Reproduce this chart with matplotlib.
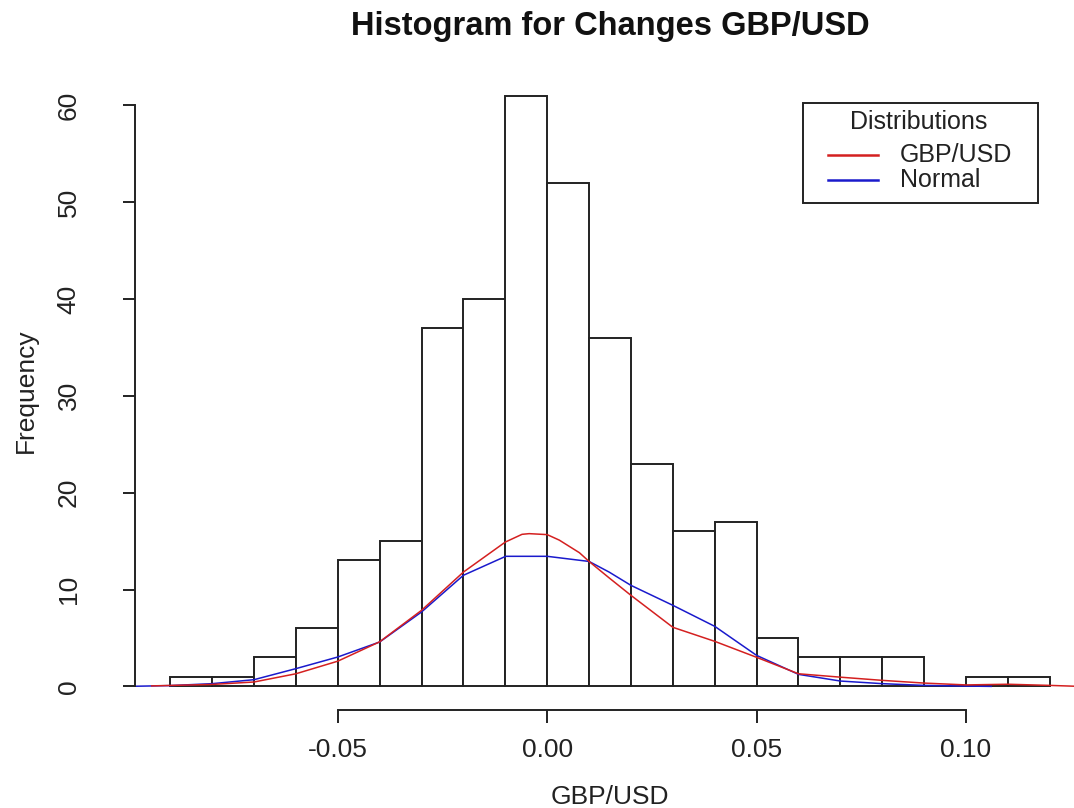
import numpy as np
import matplotlib.pyplot as plt
from matplotlib.patches import Rectangle
from matplotlib.lines import Line2D

plt.rcParams['font.family'] = ['Liberation Sans', 'DejaVu Sans']

# Histogram counts, bins of width 0.01 from -0.09 to 0.12
bin_left = [-0.09, -0.08, -0.07, -0.06, -0.05, -0.04, -0.03, -0.02, -0.01, 0.00,
            0.01, 0.02, 0.03, 0.04, 0.05, 0.06, 0.07, 0.08, 0.09, 0.10, 0.11]
counts = [1, 1, 3, 6, 13, 15, 37, 40, 61, 52, 36, 23, 16, 17, 5, 3, 3, 3, 0, 1, 1]
bin_width = 0.01

# Density curves (scaled)
gbp_x = [-0.0944, -0.08, -0.07, -0.06, -0.05, -0.04, -0.03, -0.02, -0.01, -0.006,
         -0.0043, 0.0, 0.0029, 0.0077, 0.01, 0.0148, 0.02, 0.03, 0.04, 0.05,
         0.06, 0.07, 0.08, 0.09, 0.10, 0.11, 0.12, 0.127]
gbp_y = [0.05, 0.2, 0.45, 1.3, 2.6, 4.6, 7.85, 11.8, 14.9, 15.7,
         15.77, 15.67, 15.1, 13.8, 12.9, 11.2, 9.4, 6.1, 4.65, 3.0,
         1.3, 0.95, 0.62, 0.34, 0.15, 0.22, 0.1, 0.0]

norm_x = [-0.1, -0.09, -0.08, -0.07, -0.06, -0.05, -0.04, -0.03, -0.02, -0.0099,
          0.0, 0.01, 0.0148, 0.02, 0.03, 0.04, 0.05, 0.06, 0.07, 0.08,
          0.09, 0.10, 0.106]
norm_y = [0.0, 0.08, 0.28, 0.69, 1.83, 3.03, 4.58, 7.68, 11.47, 13.43,
          13.43, 12.9, 11.8, 10.43, 8.37, 6.2, 3.2, 1.24, 0.55, 0.28,
          0.1, 0.03, 0.0]

legend_title = 'Distributions'
legend_labels = ['GBP/USD', 'Normal']
legend_colors = ['#d42020', '#1a1acc']

W, H = 1074, 808
fig = plt.figure(figsize=(W / 100, H / 100), dpi=100)
ax = fig.add_axes([135 / W, 1 - 710 / H, 950 / W, 638 / H])

ax.bar(bin_left, counts, width=bin_width, align='edge', facecolor='white',
       edgecolor='#222222', linewidth=1.4)
ax.plot(norm_x, norm_y, color=legend_colors[1], linewidth=1.1)
ax.plot(gbp_x, gbp_y, color=legend_colors[0], linewidth=1.1)

ax.set_xlim(-0.0984, 0.1284)
ax.set_ylim(-2.44, 63.44)

for s in ['top', 'right']:
    ax.spines[s].set_visible(False)
ax.spines['left'].set_bounds(0, 60)
ax.spines['bottom'].set_bounds(-0.05, 0.10)
for s in ['left', 'bottom']:
    ax.spines[s].set_linewidth(1.4)
    ax.spines[s].set_color('#222222')

ax.set_xticks([-0.05, 0.0, 0.05, 0.10])
ax.set_xticklabels(['-0.05', '0.00', '0.05', '0.10'])
ax.set_yticks([0, 10, 20, 30, 40, 50, 60])
ax.tick_params(axis='both', length=9, width=1.4, color='#222222',
               labelsize=19, labelcolor='#222222')
ax.tick_params(axis='x', pad=11)
ax.tick_params(axis='y', pad=30)
for lab in ax.get_yticklabels():
    lab.set_rotation(90)
    lab.set_va('center')

ax.set_xlabel('GBP/USD', fontsize=19, color='#222222', labelpad=17)
ax.set_ylabel('Frequency', fontsize=19, color='#222222', labelpad=14)

fig.text(610 / W, 1 - 26 / H, 'Histogram for Changes GBP/USD',
         fontsize=23.5, fontweight='bold', ha='center', va='center', color='#111111')

# legend box drawn in figure pixels, like R's legend()
px = lambda x, y: (x / W, 1 - y / H)
fig.add_artist(Rectangle(px(803, 203), 235 / W, 100 / H, transform=fig.transFigure,
                         facecolor='white', edgecolor='#222222', linewidth=1.4))
fig.text(*px(919, 122), legend_title, fontsize=18, ha='center', va='center',
         color='#222222')
for i, (lab, col) in enumerate(zip(legend_labels, legend_colors)):
    yy = 155 + 25 * i
    x0, y0 = px(828, yy)
    x1, _ = px(878, yy)
    fig.add_artist(Line2D([x0, x1], [y0, y0], transform=fig.transFigure,
                          color=col, linewidth=1.8))
    fig.text(*px(900, yy), lab, fontsize=18, ha='left', va='center', color='#222222')

fig.savefig('out.png', dpi=100)
